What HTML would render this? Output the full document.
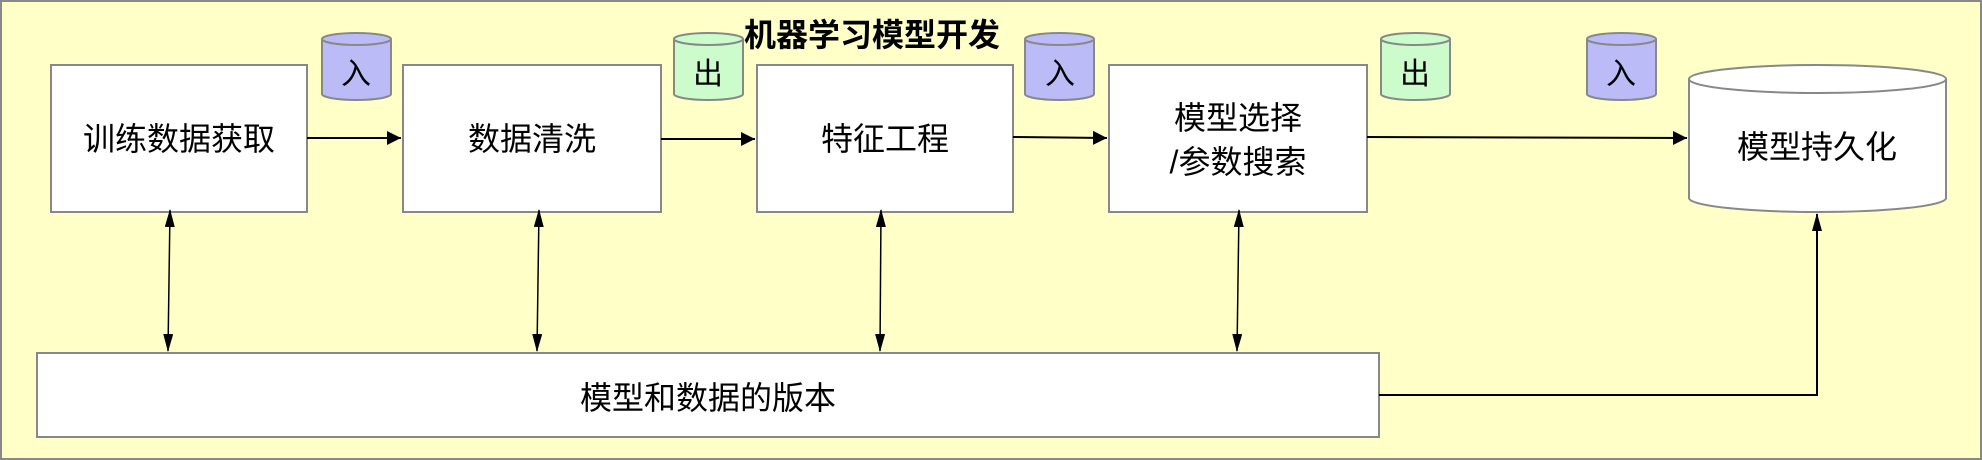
<!DOCTYPE html>
<html><head><meta charset="utf-8"><style>
html,body{margin:0;padding:0;background:#fff}
svg{display:block}
text{font-family:"Liberation Sans","Noto Sans CJK SC",sans-serif;fill:#000}
</style></head><body>
<svg width="1982" height="460" viewBox="0 0 1982 460" xmlns="http://www.w3.org/2000/svg">
<defs>
<marker id="a" markerWidth="18" markerHeight="10" refX="17" refY="5" orient="auto" markerUnits="userSpaceOnUse" viewBox="0 0 18 10"><path d="M0,0 L18,5 L0,10 z" fill="#000"/></marker>
<marker id="s" markerWidth="18" markerHeight="10" refX="1" refY="5" orient="auto" markerUnits="userSpaceOnUse" viewBox="0 0 18 10"><path d="M18,0 L0,5 L18,10 z" fill="#000"/></marker>
<marker id="b" markerWidth="16" markerHeight="16" refX="14" refY="7" orient="auto" markerUnits="userSpaceOnUse"><path d="M0,0 L14,7 L0,14 z" fill="#000"/></marker>
</defs>
<rect x="1" y="1" width="1980" height="458" fill="#ffffc8" stroke="#888" stroke-width="2"/>
<text x="872" y="46" font-size="32" font-weight="bold" text-anchor="middle">机器学习模型开发</text>

<g fill="#fff" stroke="#888" stroke-width="2">
<rect x="51" y="65" width="256" height="147"/>
<rect x="403" y="65" width="258" height="147"/>
<rect x="757" y="65" width="256" height="147"/>
<rect x="1109" y="65" width="258" height="147"/>
<rect x="37" y="353" width="1342" height="84"/>
<path d="M1689,79 L1689,198 A128.5,14 0 0 0 1946,198 L1946,79 A128.5,14 0 0 0 1689,79 A128.5,14 0 0 0 1946,79"/>
</g>

<g stroke="#888" stroke-width="2">
<path d="M322,39 L322,94 A34.5,6 0 0 0 391,94 L391,39 A34.5,6 0 0 0 322,39 A34.5,6 0 0 0 391,39" fill="#bbbbf8"/>
<path d="M674,39 L674,94 A34.5,6 0 0 0 743,94 L743,39 A34.5,6 0 0 0 674,39 A34.5,6 0 0 0 743,39" fill="#ccfccc"/>
<path d="M1025,39 L1025,94 A34.5,6 0 0 0 1094,94 L1094,39 A34.5,6 0 0 0 1025,39 A34.5,6 0 0 0 1094,39" fill="#bbbbf8"/>
<path d="M1381,39 L1381,94 A34.5,6 0 0 0 1450,94 L1450,39 A34.5,6 0 0 0 1381,39 A34.5,6 0 0 0 1450,39" fill="#ccfccc"/>
<path d="M1587,39 L1587,94 A34.5,6 0 0 0 1656,94 L1656,39 A34.5,6 0 0 0 1587,39 A34.5,6 0 0 0 1656,39" fill="#bbbbf8"/>
</g>
<g font-size="30" text-anchor="middle">
<text x="356" y="84">入</text>
<text x="708" y="84">出</text>
<text x="1060" y="84">入</text>
<text x="1415" y="84">出</text>
<text x="1621" y="84">入</text>
</g>

<g font-size="32" text-anchor="middle">
<text x="179" y="150">训练数据获取</text>
<text x="532" y="150">数据清洗</text>
<text x="885" y="150">特征工程</text>
<text x="1238" y="129">模型选择</text>
<text x="1238" y="173">/参数搜索</text>
<text x="1817" y="158">模型持久化</text>
<text x="708" y="409">模型和数据的版本</text>
</g>

<g stroke="#000" stroke-width="2" fill="none">
<line x1="307" y1="138" x2="401" y2="138" marker-end="url(#b)"/>
<line x1="661" y1="139" x2="755" y2="139" marker-end="url(#b)"/>
<line x1="1013" y1="137" x2="1107" y2="138" marker-end="url(#b)"/>
<line x1="1367" y1="137" x2="1687" y2="138" marker-end="url(#b)"/>
<line x1="170" y1="210" x2="168" y2="351" marker-start="url(#s)" marker-end="url(#a)" stroke-width="1.5"/>
<line x1="539" y1="210" x2="537" y2="351" marker-start="url(#s)" marker-end="url(#a)" stroke-width="1.5"/>
<line x1="881" y1="210" x2="880" y2="351" marker-start="url(#s)" marker-end="url(#a)" stroke-width="1.5"/>
<line x1="1239" y1="210" x2="1237" y2="351" marker-start="url(#s)" marker-end="url(#a)" stroke-width="1.5"/>
<polyline points="1379,395 1817,395 1817,214" marker-end="url(#a)" stroke-width="2"/>
</g>
</svg>
</body></html>
